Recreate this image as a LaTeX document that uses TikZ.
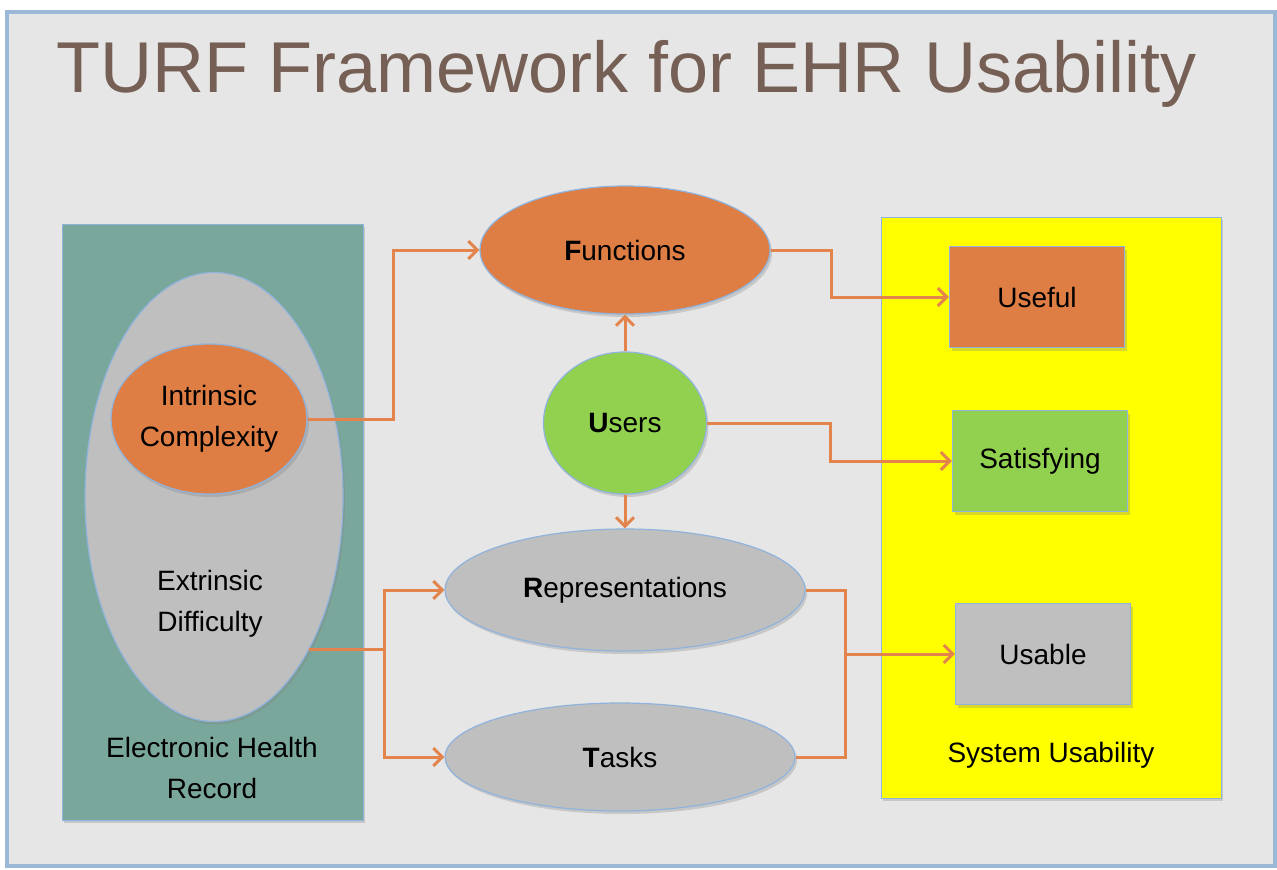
\documentclass[tikz,border=0pt]{standalone}
\usepackage{fontspec}
\setmainfont{Liberation Sans}
\usetikzlibrary{shapes.geometric,arrows.meta,shadows}

\definecolor{framebg}{HTML}{E6E6E6}
\definecolor{framerim}{HTML}{9BB8D6}
\definecolor{titlebrown}{HTML}{765F55}
\definecolor{ehrteal}{HTML}{7AA79C}
\definecolor{turforange}{HTML}{DE7E45}
\definecolor{turfgreen}{HTML}{92D050}
\definecolor{turfgray}{HTML}{BFBFBF}
\definecolor{turfyellow}{HTML}{FFFF00}
\definecolor{rimblue}{HTML}{8FB3DC}
\definecolor{linkorange}{HTML}{E3844C}

\tikzstyle{every node}=[font=\fontsize{28}{41}\selectfont,align=center,inner sep=0pt]
\tikzstyle{softshadow}=[drop shadow={shadow xshift=2pt,shadow yshift=-3pt,opacity=.3}]
\tikzstyle{blob}=[ellipse,draw=rimblue,line width=1.2pt,softshadow]
\tikzstyle{card}=[rectangle,draw=rimblue,line width=1.2pt,minimum width=175pt,minimum height=101pt,softshadow]
\tikzstyle{panel}=[rectangle,draw=rimblue,line width=1pt,softshadow]
\tikzstyle{flow}=[draw=linkorange,line width=3pt,-{Straight Barb[length=9pt,width=18pt]}]
\tikzstyle{flowline}=[draw=linkorange,line width=3pt]

\begin{document}
\begin{tikzpicture}[x=1pt,y=-1pt]
	\useasboundingbox (0,0) rectangle (1277,870);
	\fill[white] (0,0) rectangle (1277,870);
	%frame
	\draw[framerim,fill=framebg,line width=4pt] (7,12) rectangle (1275,866);
	\node[text=titlebrown,font=\fontsize{72}{80}\selectfont,anchor=base] (title) at (627,92) {TURF Framework for EHR Usability};
	%left panel
	\node[panel,fill=ehrteal,minimum width=301pt,minimum height=596pt] (ehr) at (212.5,522) {};
	\node[blob,fill=turfgray,minimum width=258pt,minimum height=449pt] (extr) at (214,497) {};
	\node (extrtext) at (210,604) {Extrinsic\\Difficulty};
	\node[blob,fill=turforange,minimum width=195pt,minimum height=150pt] (intr) at (209,419) {Intrinsic\\Complexity};
	\node (ehrtext) at (212,768) {Electronic Health\\Record};
	%right panel
	\node[panel,fill=turfyellow,minimum width=340pt,minimum height=581pt] (sys) at (1051,507.5) {};
	\node[card,fill=turforange] (useful) at (1037,297) {Useful};
	\node[card,fill=turfgreen] (satis) at (1040,461) {Satisfying};
	\node[card,fill=turfgray] (usable) at (1043,654) {Usable};
	\node (systext) at (1051,755) {System Usability};
	%middle
	\node[blob,fill=turforange,minimum width=290pt,minimum height=128pt] (func) at (625,250) {\textbf{F}unctions};
	\node[blob,fill=turfgreen,minimum width=163pt,minimum height=142pt] (users) at (625,423) {\textbf{U}sers};
	\node[blob,fill=turfgray,minimum width=360pt,minimum height=122pt] (reps) at (625,590) {\textbf{R}epresentations};
	\node[blob,fill=turfgray,minimum width=350pt,minimum height=108pt] (tasks) at (620,757) {\textbf{T}asks};
	%arrows
	\draw[flow] (intr.east) -- ++(86,0) |- (func.west);
	\draw[flow] (extr.-58) -- ++(75,0) coordinate (fork) |- (reps.west);
	\draw[flow] (fork) |- (tasks.west);
	\draw[flow] (users.north) -- (func.south);
	\draw[flow] (users.south) -- (reps.north);
	\draw[flow] (func.east) -- ++(61,0) |- (useful.west);
	\draw[flow] (users.east) -- ++(123,0) |- (satis.west);
	\draw[flowline] (reps.east) -- ++(40,0) coordinate (join) |- (tasks.east);
	\draw[flow] (join |- usable.west) -- (usable.west);
\end{tikzpicture}
\end{document}
